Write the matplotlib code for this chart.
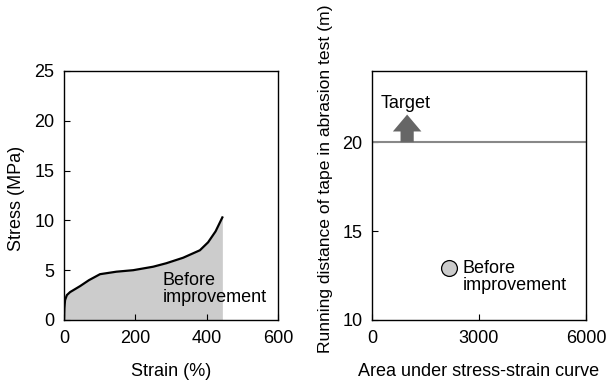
import matplotlib.pyplot as plt
import numpy as np

plt.rcParams['font.family'] = ['Liberation Sans', 'DejaVu Sans']

# stress-strain curve (before improvement)
strain = [0, 1, 3, 8, 17, 45, 70, 101, 147, 194, 250, 287, 334, 381, 404, 425, 444]
stress = [0, 1.2, 2.0, 2.5, 2.8, 3.4, 4.0, 4.6, 4.85, 5.0, 5.35, 5.7, 6.25, 7.0, 7.8, 8.9, 10.3]

# abrasion test result
area = [2150]
distance = [12.9]
target = 20

fig = plt.figure(figsize=(6.08, 3.83), dpi=100)
ax1 = fig.add_axes([64/608, 1-320/383, 214/608, 249/383])
ax2 = fig.add_axes([372/608, 1-320/383, 214/608, 249/383])

fs = 13

ax1.fill_between(strain, stress, 0, color='#cccccc', lw=0)
ax1.plot(strain, stress, color='black', lw=1.6)
ax1.set_xlim(0, 600)
ax1.set_ylim(0, 25)
ax1.set_xticks([0, 200, 400, 600])
ax1.set_yticks([0, 5, 10, 15, 20, 25])
ax1.set_xlabel('Strain (%)', fontsize=fs, labelpad=12)
ax1.set_ylabel('Stress (MPa)', fontsize=fs)
ax1.yaxis.set_label_coords(-0.18, 0.49)
ax1.text(277, 3.1, 'Before\nimprovement', fontsize=fs, ha='left', va='center',
         linespacing=1.0)

ax2.axhline(target, color='#888888', lw=1.5)
ax2.scatter(area, distance, s=130, facecolor='#cccccc', edgecolor='black',
            linewidth=0.9, zorder=3)
ax2.arrow(985, target, 0, 1.55, width=370, head_width=800, head_length=0.95,
          length_includes_head=True, color='#666666', lw=0, zorder=3)
ax2.text(250, 22.15, 'Target', fontsize=fs, ha='left', va='center')
ax2.text(2550, 12.4, 'Before\nimprovement', fontsize=fs, ha='left', va='center',
         linespacing=1.0)
ax2.set_xlim(0, 6000)
ax2.set_ylim(10, 24)
ax2.set_xticks([0, 3000, 6000])
ax2.set_yticks([10, 15, 20])
ax2.set_xlabel('Area under stress-strain curve', fontsize=fs, labelpad=12)
ax2.set_ylabel('Running distance of tape in abrasion test (m)', fontsize=12.6)
ax2.yaxis.set_label_coords(-0.18, 0.566)

for ax in (ax1, ax2):
    ax.tick_params(direction='in', labelsize=13, length=4, pad=7)
    for s in ax.spines.values():
        s.set_linewidth(1.0)

fig.savefig('out.png', dpi=100)
